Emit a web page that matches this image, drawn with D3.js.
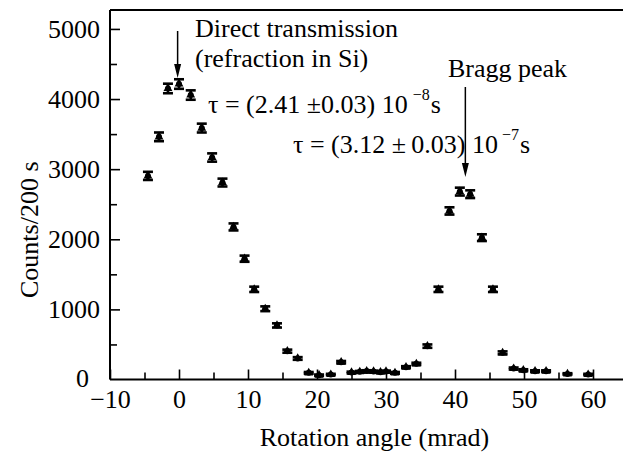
<!DOCTYPE html>
<html>
<head>
<meta charset="utf-8">
<script src="https://cdn.jsdelivr.net/npm/d3@7/dist/d3.min.js"></script>
<style>
  html, body { margin: 0; padding: 0; background: #fff; }
  svg { display: block; }
  text { font-family: "Liberation Serif", "Times New Roman", Times, "DejaVu Serif", serif; fill: #000; }
</style>
</head>
<body>
<svg id="chart" width="623" height="454"></svg>
<script>
// Data
const angles = [-4.5, -2.9, -1.6, 0.0, 1.7, 3.3, 4.8, 6.3, 7.9, 9.5, 10.9, 12.5, 14.2, 15.7, 17.2, 18.8, 20.3, 22.0, 23.5, 25.0, 26.2, 27.2, 28.2, 29.2, 30.0, 31.3, 32.9, 34.4, 36.0, 37.6, 39.2, 40.7, 42.2, 43.9, 45.5, 46.9, 48.5, 49.9, 51.6, 53.2, 56.3, 59.3];
const counts = [2904, 3461, 4151, 4214, 4057, 3586, 3166, 2809, 2176, 1723, 1286, 1009, 771, 404, 300, 95, 61, 71, 247, 100, 110, 120, 115, 105, 115, 95, 176, 223, 476, 1286, 2404, 2680, 2643, 2023, 1286, 380, 157, 133, 119, 119, 80, 71];
const errors = [58, 62, 68, 68, 67, 63, 59, 56, 50, 44, 38, 34, 30, 22, 19, 12, 10, 10, 17, 12, 12, 12, 12, 12, 12, 12, 14, 16, 24, 38, 52, 56, 55, 48, 38, 21, 14, 13, 12, 12, 10, 10];
const xTicks = [-10, 0, 10, 20, 30, 40, 50, 60];
const xMinorTicks = [-5, 5, 15, 25, 35, 45, 55];
const yTicks = [0, 1000, 2000, 3000, 4000, 5000];
const yMinorTicks = [500, 1500, 2500, 3500, 4500];
const xTitle = "Rotation angle (mrad)";
const yTitle = "Counts/200 s";

const svg = d3.select("#chart");
const W = 623, H = 454;
const mLeft = 110, mTop = 10, mBottom = 379.5;
const FS = 26;
const FF = "Liberation Serif, Times New Roman, serif";

const x = d3.scaleLinear().domain([-10, 65]).range([mLeft, mLeft + 6.9 * 75]);
const y = d3.scaleLinear().domain([0, 5270]).range([mBottom, mTop]);

// Frame: left axis, top line, bottom axis
svg.append("line").attr("x1", mLeft).attr("x2", W).attr("y1", mTop).attr("y2", mTop)
  .attr("stroke", "#000").attr("stroke-width", 2);
svg.append("line").attr("x1", mLeft).attr("x2", W).attr("y1", mBottom).attr("y2", mBottom)
  .attr("stroke", "#000").attr("stroke-width", 2);
svg.append("line").attr("x1", mLeft).attr("x2", mLeft).attr("y1", mTop).attr("y2", mBottom)
  .attr("stroke", "#000").attr("stroke-width", 2);

// X axis (ticks point inward)
const xAxis = d3.axisBottom(x).tickValues(xTicks).tickSize(-10).tickPadding(10)
  .tickFormat(d => d < 0 ? "\u2212" + Math.abs(d) : String(d));
const gx = svg.append("g").attr("transform", `translate(0,${mBottom})`).call(xAxis)
  .attr("font-family", FF);
gx.select(".domain").remove();
gx.selectAll(".tick line").attr("stroke", "#000").attr("stroke-width", 1.6);
gx.selectAll(".tick text").attr("font-size", FS).attr("fill", "#000");
const gxm = svg.append("g").attr("transform", `translate(0,${mBottom})`)
  .call(d3.axisBottom(x).tickValues(xMinorTicks).tickSize(-7).tickFormat(""));
gxm.select(".domain").remove();
gxm.selectAll(".tick line").attr("stroke", "#000").attr("stroke-width", 1.6);

// Y axis
const yAxis = d3.axisLeft(y).tickValues(yTicks).tickSize(-10).tickPadding(10).tickFormat(d3.format("d"));
const gy = svg.append("g").attr("transform", `translate(${mLeft},0)`).call(yAxis)
  .attr("font-family", FF);
gy.select(".domain").remove();
gy.selectAll(".tick line").attr("stroke", "#000").attr("stroke-width", 1.6);
gy.selectAll(".tick text").attr("font-size", FS).attr("fill", "#000");
gy.selectAll(".tick").filter(d => d === 0).select("line").remove();
gy.selectAll(".tick").filter(d => d === 0).select("text").attr("dy", "0.25em").attr("x", -21);
const gym = svg.append("g").attr("transform", `translate(${mLeft},0)`)
  .call(d3.axisLeft(y).tickValues(yMinorTicks).tickSize(-7).tickFormat(""));
gym.select(".domain").remove();
gym.selectAll(".tick line").attr("stroke", "#000").attr("stroke-width", 1.6);

// Axis titles
svg.append("text").attr("x", (mLeft + W) / 2 + 8).attr("y", 446).attr("text-anchor", "middle")
  .attr("font-size", FS).text(xTitle);
svg.append("text").attr("transform", `translate(38,${(mTop + mBottom) / 2 + 35}) rotate(-90)`)
  .attr("text-anchor", "middle").attr("font-size", FS).text(yTitle);

// Data points with error bars
const data = angles.map((a, i) => ({ a, c: counts[i], e: errors[i] }));
const pts = svg.append("g").selectAll("g").data(data).join("g");
pts.append("line")
  .attr("x1", d => x(d.a)).attr("x2", d => x(d.a))
  .attr("y1", d => y(d.c + d.e)).attr("y2", d => y(d.c - d.e))
  .attr("stroke", "#000").attr("stroke-width", 2.5);
pts.append("rect")
  .attr("x", d => x(d.a) - 5).attr("width", 10)
  .attr("y", d => y(d.c + d.e) - 1.3).attr("height", 2.6).attr("fill", "#000");
pts.append("rect")
  .attr("x", d => x(d.a) - 5).attr("width", 10)
  .attr("y", d => y(d.c - d.e) - 1.3).attr("height", 2.6).attr("fill", "#000");
pts.append("path")
  .attr("d", d3.symbol().type(d3.symbolTriangle).size(34))
  .attr("transform", d => `translate(${x(d.a)},${y(d.c)})`)
  .attr("fill", "#000");
pts.append("circle").attr("cx", d => x(d.a)).attr("cy", d => y(d.c)).attr("r", 3).attr("fill", "#000");

// Annotations
const ann = svg.append("g").attr("font-size", FS);
ann.append("text").attr("x", 195).attr("y", 37).text("Direct transmission");
ann.append("text").attr("x", 195).attr("y", 67).text("(refraction in Si)");

const t1 = ann.append("text").attr("x", 208).attr("y", 113);
t1.append("tspan").text("\u03C4 = (2.41 \u00B10.03) 10");
t1.append("tspan").attr("dx", 5).attr("dy", -13).attr("font-size", 16).text("\u22128");
t1.append("tspan").attr("dx", 1).attr("dy", 13).text("s");

const t2 = ann.append("text").attr("x", 293).attr("y", 153);
t2.append("tspan").text("\u03C4 = (3.12 \u00B1\u20090.03) 10");
t2.append("tspan").attr("dx", 4).attr("dy", -13).attr("font-size", 16).text("\u22127");
t2.append("tspan").attr("dx", 1).attr("dy", 13).text("s");

ann.append("text").attr("x", 448).attr("y", 77).text("Bragg peak");

// Arrows
function arrow(xv, y1, y2) {
  const px = x(xv);
  svg.append("line").attr("x1", px).attr("x2", px).attr("y1", y1).attr("y2", y2 - 10)
    .attr("stroke", "#000").attr("stroke-width", 1.5);
  svg.append("path")
    .attr("d", `M${px - 3.5},${y2 - 14} L${px + 3.5},${y2 - 14} L${px},${y2} Z`)
    .attr("fill", "#000");
}
arrow(-0.2, 31, 78);
arrow(41.5, 87, 177);
</script>
</body>
</html>
